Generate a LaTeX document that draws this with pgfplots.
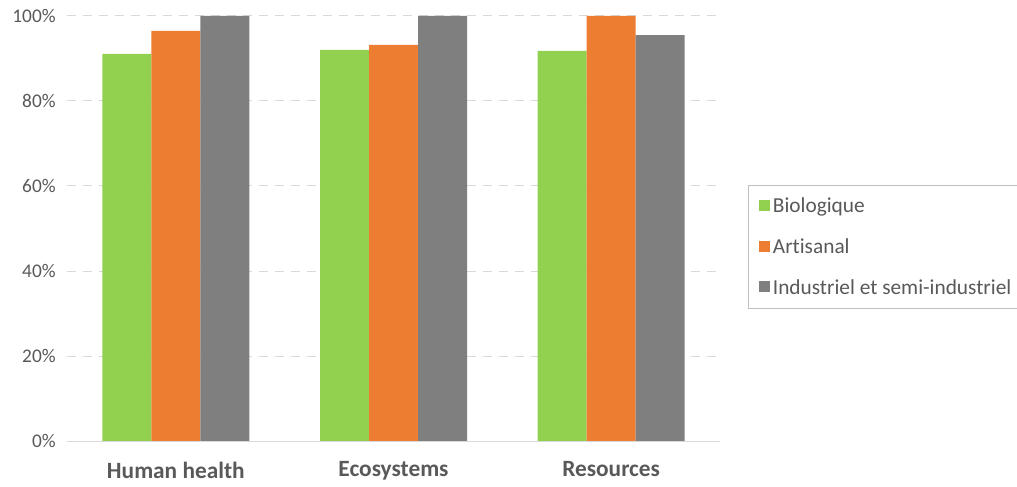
\documentclass[border=0pt]{standalone}
\usepackage{pgfplots}
\pgfplotsset{compat=1.18}
\usepackage{fontspec}
\setmainfont{Carlito}[Ligatures={NoCommon,NoDiscretionary}]
\definecolor{cgreen}{HTML}{92D050}
\definecolor{corange}{HTML}{ED7D31}
\definecolor{cgray}{HTML}{7F7F7F}
\definecolor{ctext}{HTML}{595959}
\definecolor{cgrid}{HTML}{D9D9D9}
\definecolor{cleg}{HTML}{BFBFBF}
\begin{document}
\begin{tikzpicture}
\begin{axis}[
  scale only axis,
  width=489.75pt, height=318.75pt,
  at={(0,0)}, anchor=south west,
  ybar=0pt, bar width=36.75pt,
  xmin=-0.5, xmax=2.5, ymin=0, ymax=100,
  xtick={0,1,2},
  xticklabels={Human health, Ecosystems, Resources},
  xticklabel style={font=\fontsize{17.5}{20}\selectfont\bfseries, text=ctext, yshift=-12pt},
  ytick={0,20,40,60,80,100},
  yticklabel={\pgfmathprintnumber{\tick}\%},
  yticklabel style={font=\fontsize{14.5}{17}\selectfont, text=ctext, xshift=-5pt},
  /pgf/number format/assume math mode=true,
  major tick length=0pt,
  axis line style={draw=none},
  axis x line*=bottom,
  ymajorgrids,
  grid style={cgrid, line width=0.75pt, dash pattern=on 6.75pt off 5.25pt},
  legend style={at={(rel axis cs:1.043,0.602)}, anchor=north west,
    draw=cleg, line width=0.75pt, font=\fontsize{16}{19}\selectfont,
    text=ctext, row sep=14pt, inner xsep=8pt, inner ysep=7pt},
  legend cell align=left,
  legend image code/.code={\fill[#1] (0pt,-3.5pt) rectangle (8.25pt,4.75pt);},
]
\addplot[fill=cgreen, draw=none] coordinates {(0,91.1) (1,92.0) (2,91.8)};
\addplot[fill=corange, draw=none] coordinates {(0,96.5) (1,93.2) (2,100)};
\addplot[fill=cgray, draw=none] coordinates {(0,100) (1,100) (2,95.5)};
\legend{Biologique, Artisanal, Industriel et semi-industriel}
\draw[cgrid, line width=0.75pt] (rel axis cs:0,0) -- (rel axis cs:1,0);
\end{axis}
\pgfresetboundingbox
\path[use as bounding box] (-50.25pt,-33.75pt) rectangle (712.5pt,330.75pt);
\end{tikzpicture}
\end{document}
